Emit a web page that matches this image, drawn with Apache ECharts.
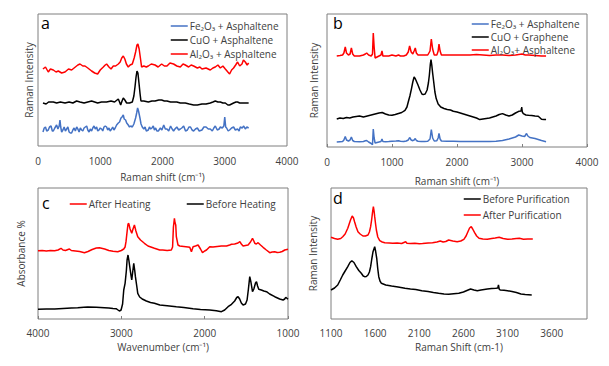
<!DOCTYPE html>
<html>
<head>
<meta charset="utf-8">
<script src="https://cdn.jsdelivr.net/npm/echarts@6/dist/echarts.min.js"></script>
<style>html,body{margin:0;padding:0;background:#fff}#c{width:609px;height:366px}</style>
</head>
<body>
<div id="c"></div>
<script>
// ---------- Panel a (Raman, x: cm-1, y: arbitrary intensity) ----------
const aNames = ['Fe\u2082O\u2083 + Asphaltene', 'CuO + Asphaltene', 'Al\u2082O\u2083 + Asphaltene'];
const aFe = [[80,14],[100,18],[120,19],[140,15],[165,16],[185,19],[210,20],[230,15],[246,15],[270,18],[299,21],[320,17],[340,20],[353,26],[365,19],[380,14],[400,16],[420,19],[440,15],[460,17],[480,19],[500,14],[520,13],[540,13],[560,16],[580,18],[600,15],[621,19],[640,17],[660,14],[680,18],[701,16],[720,15],[740,18],[760,19],[782,20],[800,16],[820,14],[840,17],[861,15],[880,18],[900,20],[920,17],[942,19],[960,15],[980,16],[1000,18],[1022,17],[1040,15],[1060,19],[1080,20],[1102,19],[1120,16],[1140,18],[1160,15],[1183,17],[1200,19],[1220,16],[1240,18],[1263,21],[1290,23],[1310,24],[1333,28],[1350,29],[1370,31],[1385,27],[1407,26],[1425,23],[1450,21],[1470,19],[1490,20],[1515,19],[1540,22],[1568,28],[1585,33],[1600,38],[1615,35],[1638,28],[1655,22],[1675,19],[1700,17],[1720,19],[1740,15],[1772,16],[1790,19],[1810,17],[1830,18],[1852,20],[1870,16],[1890,18],[1910,15],[1933,15],[1966,18],[1990,16],[2020,21],[2045,17],[2072,17],[2100,15],[2130,20],[2155,17],[2178,15],[2200,17],[2230,19],[2260,16],[2286,17],[2310,18],[2340,20],[2370,15],[2400,16],[2425,19],[2450,19],[2475,16],[2500,15],[2530,17],[2560,18],[2590,15],[2634,16],[2665,19],[2700,19],[2735,17],[2768,17],[2800,15],[2825,18],[2848,20],[2880,16],[2910,17],[2929,19],[2960,18],[2985,20],[3000,29],[3015,19],[3030,18],[3055,15],[3078,16],[3110,18],[3142,19],[3170,16],[3206,17],[3230,15],[3250,19],[3280,18],[3305,20],[3330,17],[3355,19],[3384,18]];
const aCuO = [[80,43],[130,42],[170,44],[246,44],[300,43],[360,44],[434,43],[500,44],[560,43],[620,45],[675,44],[740,43],[800,44],[861,45],[910,44],[958,43],[1020,44],[1102,44],[1173,45],[1230,44],[1290,47],[1310,44],[1328,41],[1350,45],[1370,48],[1395,46],[1424,43],[1470,43],[1515,44],[1540,50],[1558,59],[1575,69],[1590,75],[1605,73],[1622,63],[1640,52],[1654,45],[1700,45],[1772,44],[1830,45],[1880,45],[1940,46],[1986,46],[2030,45],[2072,45],[2130,44],[2178,44],[2230,44],[2286,43],[2330,43],[2366,43],[2430,42],[2500,41],[2560,41],[2634,42],[2700,42],[2768,43],[2810,44],[2848,45],[2890,44],[2929,44],[2970,43],[3009,43],[3050,41],[3078,41],[3110,42],[3142,43],[3180,44],[3206,44],[3240,43],[3277,43],[3330,43],[3384,43]];
const aAl = [[80,77],[120,79],[165,74],[200,77],[246,76],[290,74],[326,75],[380,73],[434,74],[490,77],[540,76],[600,79],[640,81],[675,82],[720,80],[755,80],[800,78],[861,75],[910,73],[958,72],[1000,76],[1049,79],[1080,81],[1102,82],[1140,79],[1173,77],[1210,80],[1247,80],[1290,82],[1320,84],[1345,88],[1370,90],[1395,87],[1420,82],[1450,79],[1480,81],[1515,82],[1545,88],[1568,94],[1590,101],[1605,102],[1625,97],[1645,88],[1664,79],[1700,80],[1740,79],[1772,80],[1820,82],[1880,81],[1930,79],[1986,82],[2030,80],[2072,80],[2120,83],[2178,82],[2230,80],[2286,79],[2330,82],[2366,81],[2420,79],[2460,81],[2500,80],[2560,78],[2600,79],[2634,77],[2700,78],[2768,76],[2810,78],[2848,79],[2890,81],[2929,78],[2970,80],[3009,77],[3050,74],[3078,72],[3110,76],[3142,78],[3175,81],[3206,84],[3240,80],[3277,82],[3300,86],[3330,84],[3360,81],[3384,83]];

// ---------- Panel b ----------
const bNames = ['Fe\u2082O\u2083 + Asphaltene', 'CuO + Graphene', 'Al\u2082O\u2083+ Asphaltene'];
const bFe = [[150,5],[200,5.3],[240,5.5],[260,7],[281,10.5],[300,7],[330,6],[355,7],[375,10],[395,6.5],[420,5.5],[500,5.2],[560,5.5],[590,6.2],[610,6.5],[640,5],[680,3.5],[700,2.2],[712,18],[725,9],[740,4],[770,4.5],[800,5],[830,5.5],[846,8],[860,5.5],[900,5.3],[950,5.5],[1000,5.8],[1060,6],[1100,6.3],[1130,5.8],[1180,5.5],[1220,6],[1250,7],[1271,9.5],[1295,7],[1320,6.3],[1340,7],[1358,8.5],[1375,6.5],[1400,5.8],[1450,5.6],[1500,5.6],[1550,5.8],[1585,8],[1605,17.5],[1625,9],[1650,6],[1690,6.3],[1710,9],[1723,13.5],[1740,8],[1760,6],[1850,5.8],[1950,5.7],[2050,5.6],[2200,5.5],[2300,5.6],[2400,5.5],[2500,5.6],[2600,5.8],[2700,6.5],[2800,8],[2900,10],[2950,12],[3000,11],[3040,10.5],[3070,13.5],[3090,11],[3120,9.5],[3200,8.5],[3300,6.5],[3370,5.3]];
const bCuO = [[150,28],[200,29],[250,28.5],[300,29.5],[350,29],[400,30],[450,30.5],[500,31],[560,30],[620,31],[680,32],[740,33],[800,34],[849,34.5],[900,33],[950,32],[1000,31.7],[1050,32.5],[1100,33.5],[1150,34.5],[1200,36.7],[1230,40],[1250,45],[1275,51],[1300,58.4],[1320,65],[1340,70],[1360,68],[1380,65],[1400,62],[1430,57],[1460,53],[1480,52.4],[1510,53],[1540,57],[1560,64],[1575,72],[1590,83],[1600,87.4],[1612,82],[1625,74],[1640,66],[1660,55],[1680,48.4],[1710,43],[1750,40],[1800,38.5],[1850,37.5],[1900,37],[1943,35.7],[2000,35],[2050,34],[2100,33],[2150,32],[2200,31],[2250,30],[2300,29],[2350,27.4],[2400,28],[2450,28.5],[2500,29],[2550,30],[2600,31],[2650,32.5],[2700,33.4],[2750,32],[2800,31],[2850,32],[2900,34],[2950,35.7],[2985,36],[2995,40],[3005,35],[3020,33.4],[3060,32],[3100,31.7],[3150,31.5],[3200,31],[3250,30.7],[3280,29],[3300,27.7],[3340,27.4],[3370,27.4]];
const bAl = [[150,91],[200,91.5],[240,92],[260,94],[281,100],[300,94],[330,92],[355,93],[375,99],[395,93],[420,91],[500,91],[560,92],[590,93],[610,94],[640,92],[680,91],[700,93],[712,114],[725,100],[740,89],[770,90],[800,91],[830,92],[846,96],[860,91],[900,91],[950,91],[1000,92],[1060,91],[1100,92],[1130,91],[1180,91],[1220,92],[1250,95],[1271,101],[1295,95],[1320,93],[1340,96],[1358,99],[1375,94],[1400,92],[1450,92],[1500,92],[1550,92],[1585,96],[1605,108],[1625,98],[1650,92],[1690,92],[1710,96],[1723,103],[1740,96],[1760,92],[1850,92],[1950,92],[2050,92],[2200,92],[2300,92.5],[2400,92],[2500,91.5],[2600,92],[2700,92],[2800,91.5],[2900,92],[2950,92.5],[3000,93],[3050,92],[3100,92],[3200,91.5],[3300,91],[3370,91]];

// ---------- Panel c (FTIR) ----------
const cNames = ['After Heating', 'Before Heating'];
const cAfter = [[4000,68.3],[3950,68.5],[3900,68],[3850,68.6],[3800,68.2],[3760,69],[3724,70.7],[3700,69],[3670,68.5],[3640,69.5],[3623,70],[3600,68.5],[3550,68],[3500,67.5],[3443,66.3],[3400,67.5],[3350,69.5],[3300,71],[3263,71.3],[3200,70],[3150,68.5],[3100,67.8],[3043,67.3],[3000,68.5],[2971,70],[2955,72],[2944,77.3],[2930,88],[2920,95],[2911,95.7],[2895,90],[2875,85.7],[2860,90],[2843,94],[2825,88],[2803,82.3],[2770,79],[2723,75.7],[2680,73],[2603,70.7],[2540,69],[2503,69],[2450,68.5],[2400,69],[2385,72],[2375,92],[2363,100.7],[2355,96],[2347,94],[2340,82.3],[2320,74],[2299,73],[2250,72.5],[2200,72],[2179,71.7],[2159,67.3],[2139,72.3],[2110,73],[2079,74],[2050,70],[2026,66.3],[2000,68],[1978,69],[1939,72.3],[1900,72],[1850,72.5],[1800,73],[1738,73],[1700,74],[1678,74.7],[1640,75],[1600,76],[1578,77.3],[1560,75],[1539,73],[1510,73.5],[1479,74],[1450,77],[1426,80.7],[1410,78],[1399,75.7],[1380,75],[1359,76.3],[1330,74],[1299,71.7],[1260,69],[1219,66.3],[1190,67],[1159,67.3],[1130,66.5],[1099,66.7],[1070,67.5],[1039,69],[1000,69.7]];
const cBefore = [[4000,9.7],[3900,9.9],[3800,10],[3700,10.5],[3600,11],[3523,11.3],[3450,11.8],[3403,12],[3300,11.8],[3203,11.3],[3150,11],[3100,10.5],[3063,10.3],[3040,9],[3023,8],[3003,9],[2985,15],[2971,29],[2955,35.7],[2940,48],[2931,59],[2920,64],[2910,59],[2899,52.3],[2885,44],[2875,39],[2865,46],[2851,55.7],[2840,49],[2831,42.3],[2815,33],[2803,25.7],[2780,22],[2743,19.7],[2700,18],[2650,16.5],[2603,15.7],[2538,14],[2450,13.3],[2340,12.3],[2250,11.5],[2139,10.3],[2050,9.5],[1939,9],[1860,8.2],[1799,7.3],[1760,9],[1719,12.3],[1678,14.7],[1640,18],[1615,21.5],[1599,22.3],[1580,20],[1560,16],[1539,14],[1510,15],[1491,19],[1475,30],[1459,42.3],[1445,37],[1426,27.3],[1410,30],[1390,36],[1378,37.3],[1365,33],[1351,29.7],[1320,29],[1290,28],[1258,27.3],[1220,25],[1159,22.3],[1100,20],[1059,19],[1040,20],[1027,21.7],[1010,20.5],[1000,19.7]];

// ---------- Panel d ----------
const dNames = ['Before Purification', 'After Purification'];
const dBefore = [[1100,29],[1140,31],[1176,34],[1205,39],[1233,44],[1260,48],[1290,52.3],[1315,56.5],[1336,58.3],[1360,56.5],[1386,52.3],[1415,48.5],[1443,45.7],[1465,43],[1481,42.3],[1500,42.5],[1519,44],[1535,47],[1549,52.3],[1562,60],[1576,67.3],[1595,72.3],[1605,68],[1618,60.7],[1630,50],[1641,42.3],[1655,38],[1671,35.7],[1720,34],[1786,33],[1860,32],[1938,30.7],[2000,30],[2060,29.5],[2129,28.3],[2200,27.5],[2260,26.5],[2319,25.7],[2380,25],[2433,24.7],[2490,25.2],[2548,25.7],[2600,27],[2640,28.5],[2681,30],[2720,29],[2757,28.3],[2800,29],[2871,30],[2920,30.5],[2967,30.7],[2990,31],[2997,34],[3005,30],[3016,29],[3060,28.8],[3100,28.3],[3150,27.5],[3200,26.5],[3252,25],[3300,24.5],[3374,24]];
const dAfter = [[1100,81.7],[1140,80.5],[1176,79.7],[1210,80.5],[1233,82.3],[1260,85],[1290,90.7],[1321,99],[1340,103],[1355,101],[1367,97.3],[1385,92],[1405,87.3],[1430,85],[1462,83],[1490,83],[1519,84],[1535,87],[1549,92.3],[1560,99],[1569,105.7],[1580,112.3],[1588,108],[1595,102.3],[1605,95],[1614,89],[1630,82],[1652,78.3],[1680,77],[1709,76.3],[1760,76],[1800,75.7],[1850,76],[1900,75.5],[1946,77.3],[1960,75.8],[2000,75.5],[2050,75.7],[2100,75.3],[2137,75.5],[2200,76],[2250,76.3],[2300,77],[2338,78],[2370,77],[2400,77.5],[2433,79],[2480,78],[2529,77.3],[2570,78],[2605,79.7],[2630,83],[2651,87.3],[2670,91],[2689,92.3],[2705,90],[2727,86.3],[2750,83],[2777,80.7],[2820,80],[2871,79.7],[2920,80.5],[2960,81],[3005,81.7],[3050,80.5],[3100,79.7],[3150,80],[3200,80.5],[3234,80.7],[3280,79.8],[3330,80],[3386,80]];

const panelLetters = ['a', 'b', 'c', 'd'];
const xTitles = ['Raman shift (cm\u207B\u00B9)', 'Raman shift (cm\u207B\u00B9)', 'Wavenumber (cm\u207B\u00B9)', 'Raman Shift (cm-1)'];
const yTitles = ['Raman Intensity', 'Raman Intensity', 'Absorbance %', 'Raman Intensity'];

const RED = '#FF0000', BLACK = '#000000', BLUE = '#4472C4';
const FONT = 'Open Sans';
const TXT = '#404040';
const FS = 10;

const grids = [
  {left: 38, top: 14, width: 249, height: 132},
  {left: 327, top: 14, width: 260, height: 133},
  {left: 38, top: 188, width: 250, height: 131},
  {left: 331, top: 188, width: 256, height: 131}
].map(g => Object.assign({show: true, borderColor: '#7f7f7f', borderWidth: 1, backgroundColor: 'transparent'}, g));

const xCfg = [
  {min: 0, max: 4000, interval: 1000, inverse: false, gap: 25, margin: 9, tick: false},
  {min: 0, max: 4000, interval: 1000, inverse: false, gap: 28, margin: 9, tick: true},
  {min: 1000, max: 4000, interval: 1000, inverse: true, gap: 22, margin: 8, tick: true},
  {min: 1100, max: 4000, interval: 500, inverse: false, gap: 22, margin: 8, tick: false}
];
const xAxes = xCfg.map((c, i) => ({
  type: 'value', gridIndex: i, min: c.min, max: c.max, interval: c.interval, inverse: c.inverse,
  name: xTitles[i], nameLocation: 'middle', nameGap: c.gap,
  nameTextStyle: {fontFamily: FONT, fontSize: FS, color: TXT, lineHeight: 11},
  axisLine: {show: false},
  axisTick: {show: c.tick, inside: true, length: 3, lineStyle: {color: '#7f7f7f'}},
  splitLine: {show: false},
  axisLabel: {margin: c.margin, fontFamily: FONT, fontSize: FS, color: TXT, lineHeight: 11,
    showMaxLabel: i !== 3, formatter: v => String(v)}
}));
const yMax = [132, 133, 131, 131];
const yGaps = [4, 8, 12, 13];
const yAxes = yMax.map((m, i) => ({
  type: 'value', gridIndex: i, min: 0, max: m,
  name: yTitles[i], nameLocation: 'middle', nameGap: yGaps[i], nameRotate: 90,
  nameTextStyle: {fontFamily: FONT, fontSize: FS, color: TXT},
  axisLine: {show: false}, axisTick: {show: false}, axisLabel: {show: false}, splitLine: {show: false}
}));

function line(name, data, color, idx) {
  return {type: 'line', name, data, xAxisIndex: idx, yAxisIndex: idx, symbol: 'none',
    lineStyle: {color, width: 1.5}, itemStyle: {color}, animation: false, silent: true};
}
const series = [
  line(aNames[0], aFe, BLUE, 0), line(aNames[1], aCuO, BLACK, 0), line(aNames[2], aAl, RED, 0),
  line(bNames[0], bFe, BLUE, 1), line(bNames[1], bCuO, BLACK, 1), line(bNames[2], bAl, RED, 1),
  line(cNames[0], cAfter, RED, 2), line(cNames[1], cBefore, BLACK, 2),
  line(dNames[0], dBefore, BLACK, 3), line(dNames[1], dAfter, RED, 3)
];

function legend(names, left, top, gap, w) {
  return {data: names, left, top, orient: 'vertical', itemGap: gap, itemWidth: w, itemHeight: 10,
    padding: 0, selectedMode: false,
    itemStyle: {opacity: 0, borderWidth: 0},
    lineStyle: {width: 1.5, opacity: 1},
    textStyle: {fontFamily: FONT, fontSize: FS, color: TXT, padding: [0, 0, 0, -3]}};
}
const legends = [
  legend(aNames, 170, 21, 4, 17),
  legend(bNames, 471, 19, 3, 17),
  legend([cNames[0]], 69, 199, 0, 17),
  legend([cNames[1]], 186, 199, 0, 17),
  legend(dNames, 463, 194, 6, 17)
];

const letterPos = [[41, 15], [333, 15], [42, 195], [333, 190]];
const titles = panelLetters.map((t, i) => ({text: t, left: letterPos[i][0], top: letterPos[i][1], padding: 0,
  textStyle: {fontFamily: FONT, fontSize: 16, fontWeight: 'normal', color: '#000'}}));

const chart = echarts.init(document.getElementById('c'), null, {renderer: 'svg'});
chart.setOption({
  animation: false,
  backgroundColor: '#fff',
  title: titles,
  legend: legends,
  grid: grids,
  xAxis: xAxes,
  yAxis: yAxes,
  series
});
</script>
</body>
</html>
